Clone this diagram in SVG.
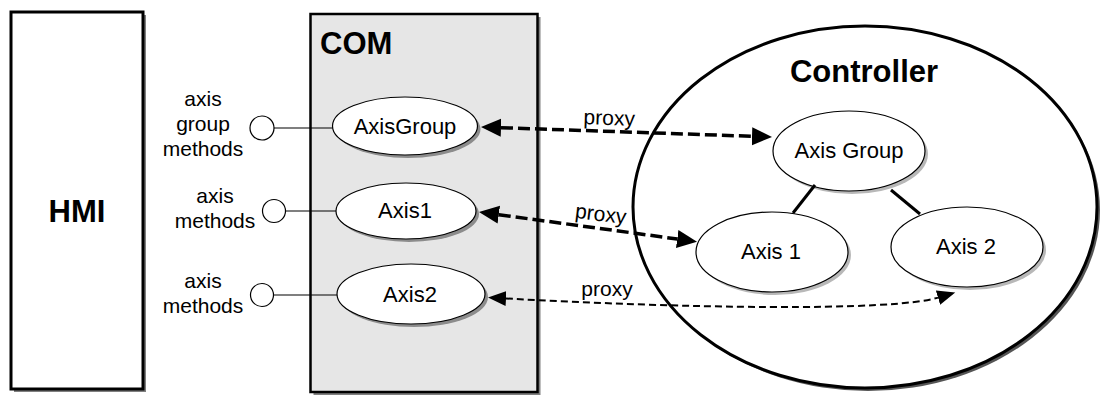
<svg xmlns="http://www.w3.org/2000/svg" width="1101" height="396" viewBox="0 0 1101 396">
  <defs>
    <style>
      text { font-family: "Liberation Sans", Arial, sans-serif; fill: #000; }
      .title { font-weight: bold; font-size: 31px; }
      .lbl { font-size: 21px; text-anchor: middle; }
      .node { font-size: 22px; text-anchor: middle; }
      .node-shape { fill: #fff; stroke: #000; stroke-width: 1.2; }
      .shadow-lt { fill: #b8b8b8; }
      .shadow-md { fill: #8c8c8c; }
      .port { fill: #fff; stroke: #000; stroke-width: 1.2; }
      .wire { stroke: #000; stroke-width: 1.2; fill: none; }
      .link { stroke: #000; stroke-width: 3; fill: none; }
      .proxy-thick { stroke: #000; stroke-width: 3.5; fill: none; stroke-dasharray: 12 5; }
      .proxy-thin { stroke: #000; stroke-width: 2; fill: none; stroke-dasharray: 7 4; }
    </style>
    <marker id="headBig" markerUnits="userSpaceOnUse" markerWidth="22" markerHeight="20" viewBox="0 -10 22 20" refX="0" refY="0" orient="auto-start-reverse">
      <path d="M0,-9 L20,0 L0,9 Z" fill="#000" stroke="none"/>
    </marker>
    <marker id="headSmall" markerUnits="userSpaceOnUse" markerWidth="20" markerHeight="18" viewBox="0 -9 20 18" refX="0" refY="0" orient="auto-start-reverse">
      <path d="M0,-7.5 L18,0 L0,7.5 Z" fill="#000" stroke="none"/>
    </marker>
  </defs>

  <rect width="1101" height="396" fill="#fff"/>

  <!-- HMI block -->
  <g id="hmi">
    <rect x="14" y="15" width="132" height="377" fill="#808080"/>
    <rect x="11" y="12" width="132" height="377" fill="#fff" stroke="#000" stroke-width="3"/>
    <text class="title" x="77" y="222" text-anchor="middle" font-size="28">HMI</text>
  </g>

  <!-- COM container -->
  <g id="com">
    <rect x="313.5" y="17" width="227" height="378" fill="#808080"/>
    <rect x="310.5" y="14" width="227" height="378" fill="#e6e6e6" stroke="#000" stroke-width="2.5"/>
    <text class="title" x="320" y="54" font-size="29">COM</text>
  </g>

  <!-- Controller container -->
  <g id="controller">
    <ellipse cx="868" cy="210" rx="232" ry="181" fill="#555"/>
    <ellipse cx="865" cy="207" rx="232" ry="181" fill="#fff" stroke="#000" stroke-width="3"/>
    <text class="title" x="864" y="82" text-anchor="middle">Controller</text>
  </g>

  <!-- interface ports on the COM objects -->
  <g id="port-axisgroup">
    <circle class="port" cx="262" cy="128" r="12"/>
    <text class="lbl" x="203" y="106">axis</text>
    <text class="lbl" x="203" y="131">group</text>
    <text class="lbl" x="203" y="156">methods</text>
  </g>
  <g id="port-axis1">
    <circle class="port" cx="274" cy="211" r="11.5"/>
    <text class="lbl" x="215" y="203">axis</text>
    <text class="lbl" x="215" y="228">methods</text>
  </g>
  <g id="port-axis2">
    <circle class="port" cx="262" cy="295" r="11.5"/>
    <text class="lbl" x="203" y="288">axis</text>
    <text class="lbl" x="203" y="313">methods</text>
  </g>

  <!-- COM objects -->
  <g id="com-axisgroup">
    <ellipse class="shadow-md" cx="408" cy="129" rx="72.5" ry="29"/>
    <ellipse class="node-shape" cx="405" cy="126" rx="72.5" ry="29"/>
    <text class="node" x="405" y="134">AxisGroup</text>
  </g>
  <g id="com-axis1">
    <ellipse class="shadow-md" cx="409" cy="214" rx="70" ry="28"/>
    <ellipse class="node-shape" cx="406" cy="211" rx="70" ry="28"/>
    <text class="node" x="405" y="218">Axis1</text>
  </g>
  <g id="com-axis2">
    <ellipse class="shadow-md" cx="414" cy="297" rx="74" ry="30"/>
    <ellipse class="node-shape" cx="411" cy="294" rx="74" ry="30"/>
    <text class="node" x="410" y="302">Axis2</text>
  </g>

  <!-- controller objects -->
  <g id="ctl-axisgroup">
    <ellipse class="shadow-lt" cx="852" cy="154" rx="76" ry="40"/>
    <ellipse class="node-shape" cx="849" cy="151" rx="76" ry="40"/>
    <text class="node" x="849" y="158" font-size="21">Axis Group</text>
  </g>
  <g id="ctl-axis1">
    <ellipse class="shadow-lt" cx="775" cy="255" rx="76" ry="40"/>
    <ellipse class="node-shape" cx="772" cy="252" rx="76" ry="40"/>
    <text class="node" x="771" y="259" font-size="21">Axis 1</text>
  </g>
  <g id="ctl-axis2">
    <ellipse class="shadow-lt" cx="970" cy="250" rx="76" ry="40"/>
    <ellipse class="node-shape" cx="967" cy="247" rx="76" ry="40"/>
    <text class="node" x="966" y="254" font-size="21">Axis 2</text>
  </g>

  <!-- connectors -->
  <g id="connectors">
    <line class="wire" x1="274" y1="128" x2="332.5" y2="128"/>
    <line class="wire" x1="285.5" y1="211" x2="336" y2="211"/>
    <line class="wire" x1="273.5" y1="295" x2="337" y2="295"/>

    <line class="link" x1="815" y1="185" x2="793" y2="213"/>
    <line class="link" x1="891" y1="190" x2="920" y2="214"/>

    <path class="proxy-thick" d="M501,127.7 L752,136.3" marker-start="url(#headBig)" marker-end="url(#headBig)"/>
    <path class="proxy-thick" d="M498.8,214.7 L677.2,239" marker-start="url(#headBig)" marker-end="url(#headBig)"/>
    <path class="proxy-thin" d="M506,298.5 C680,308 890,312 938,297.6" marker-start="url(#headSmall)" marker-end="url(#headSmall)"/>

    <text class="lbl" x="609" y="125" transform="rotate(2 609 125)">proxy</text>
    <text class="lbl" x="600" y="221" transform="rotate(7 600 221)">proxy</text>
    <text class="lbl" x="607" y="296">proxy</text>
  </g>
</svg>
